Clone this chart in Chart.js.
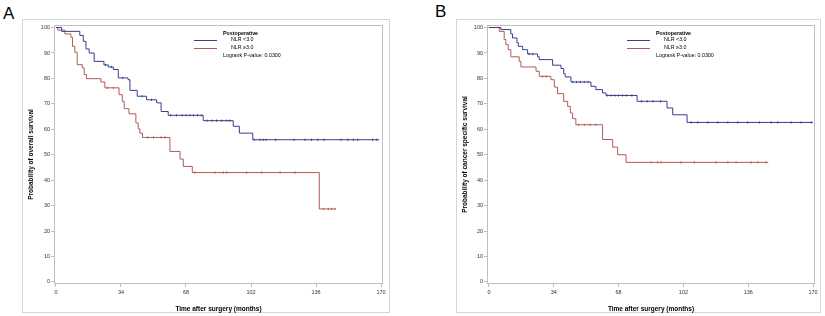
<!DOCTYPE html>
<html>
<head>
<meta charset="utf-8">
<script src="https://cdn.jsdelivr.net/npm/chart.js@4/dist/chart.umd.min.js"></script>
<style>
  body { margin: 0; background: #fff; width: 825px; height: 316px; position: relative; overflow: hidden;
         font-family: "Liberation Sans", Arial, sans-serif; }
  .panel-label { position: absolute; font-size: 17px; line-height: 17px; color: #000; }
  .frame { position: absolute; border: 1px solid #d6d6d6; box-sizing: border-box; }
  canvas { position: absolute; }
  .lg { position: absolute; font-size: 5.3px; line-height: 6px; color: #000; white-space: nowrap; }
  .lg.b { font-weight: bold; }
  .lgline { position: absolute; height: 1px; width: 23px; }
</style>
</head>
<body>
<div class="panel-label" style="left:3px;top:5px;">A</div>
<div class="panel-label" style="left:435px;top:3px;">B</div>

<div class="frame" style="left:22px;top:19px;width:368px;height:294px;"></div>
<div class="frame" style="left:456px;top:19px;width:365px;height:294px;"></div>

<canvas id="chartA" width="368" height="294" style="left:22px;top:19px;"></canvas>
<canvas id="chartB" width="365" height="294" style="left:456px;top:19px;"></canvas>

<!-- legend A -->
<div class="lg b" style="left:223px;top:30px;">Postoperative</div>
<div class="lgline" style="left:194px;top:40px;background:#3a3d8c;"></div>
<div class="lg" style="left:231px;top:36px;">NLR &lt;3.0</div>
<div class="lgline" style="left:194px;top:48px;background:#b35a5a;"></div>
<div class="lg" style="left:231px;top:44px;">NLR ≥3.0</div>
<div class="lg" style="left:223px;top:52px;">Logrank P-value: 0.0300</div>

<!-- legend B -->
<div class="lg b" style="left:656px;top:30px;">Postoperative</div>
<div class="lgline" style="left:627px;top:40px;background:#3a3d8c;"></div>
<div class="lg" style="left:664px;top:36px;">NLR &lt;3.0</div>
<div class="lgline" style="left:627px;top:48px;background:#b35a5a;"></div>
<div class="lg" style="left:664px;top:44px;">NLR ≥3.0</div>
<div class="lg" style="left:656px;top:52px;">Logrank P-value: 0.0300</div>

<script>
"use strict";

// 1: data (months, survival %)
const xTicks = [0, 34, 68, 102, 136, 170];
const yTicks = [0, 10, 20, 30, 40, 50, 60, 70, 80, 90, 100];

// A - overall survival, NLR <3.0
const aLowTime = [0, 3, 12.5, 14.3, 15.7, 17.4, 20, 25.1, 27.4, 30, 32.6, 37.7, 38.7, 42.5, 47.4, 52.7, 55, 58.7, 77, 92.7, 95.9, 102.9, 169];
const aLowSurv = [100, 98.5, 96.9, 94.6, 91.6, 90, 86.7, 85.3, 84.5, 83.5, 80.2, 79.5, 75.3, 73, 71.6, 70.4, 67, 65.5, 63.4, 61.2, 58.5, 55.9, 55.9];
const aLowCensor = [26, 29, 35, 45, 50, 60, 63, 66, 68, 70, 72, 74, 76, 79, 81.5, 84, 86.7, 89.3, 91, 103.6, 106.7, 108.4, 109.8, 114.9, 124.5, 130.2, 133.7, 136.9, 140.2, 149.1, 152.6, 155.5, 157.8, 165.6, 167.7];

// A - overall survival, NLR >=3.0
const aHighTime = [0, 1, 4.7, 7.8, 8.7, 9.9, 11.1, 13.8, 14.8, 16, 23.5, 25.6, 33, 34.7, 35.7, 38.2, 41.8, 43, 43.9, 45.3, 59.6, 64.9, 66.6, 71.3, 137.7, 146];
const aHighSurv = [100, 99, 97.5, 96.2, 92.6, 90.3, 85.4, 84.1, 81.5, 79.9, 78.6, 76.3, 73.6, 71, 68.1, 66.1, 62.5, 60.2, 58.5, 56.8, 51.3, 48.3, 45.4, 43, 28.7, 28.7];
const aHighCensor = [27, 30, 48, 51, 55, 57, 72.7, 83.2, 87.5, 89.3, 99.7, 107.6, 117.2, 125, 139.8, 142.4, 144.2, 146];

// B - cancer specific survival, NLR <3.0
const bLowTime = [0, 6.3, 11.5, 12.4, 14.7, 15.4, 17.7, 20.3, 25.5, 26.4, 33.4, 37.8, 39.2, 40, 43, 53.5, 56.1, 59.6, 61.4, 77.7, 93.4, 96.4, 103.9, 169.9];
const bLowSurv = [100, 99.2, 97.5, 95.9, 94, 92.6, 91.3, 89.6, 88.5, 87.4, 85.2, 83.9, 81.9, 80.6, 78.6, 76.9, 75.6, 74.3, 73.3, 71, 68.4, 65.7, 62.7, 62.7];
const bLowCensor = [21, 23, 44, 46, 48, 50, 52, 62, 64, 66, 68, 70, 72, 75, 80, 83, 86, 90, 106, 109.5, 114.8, 120, 125.3, 130.5, 135.7, 141.8, 148, 151.5, 158.5, 163.7, 169];

// B - cancer specific survival, NLR >=3.0
const bHighTime = [0, 5.4, 8, 8.9, 10.1, 11.5, 15.9, 16.8, 24.7, 26.4, 32.5, 34.3, 36, 39.2, 41.3, 42.7, 43.9, 45.6, 59.6, 64.9, 67.5, 71.9, 146.5];
const bHighSurv = [100, 98.5, 95.3, 93.3, 91.3, 88.5, 86.7, 84.5, 82.8, 80.8, 79.5, 76.6, 74, 71, 69, 66.4, 64.2, 61.8, 56, 53, 50, 47, 47];
const bHighCensor = [28, 30, 47, 50, 53, 56, 85, 88.5, 90.2, 100.7, 107.7, 119.1, 125.3, 129.6, 137.5, 141, 145.3];

const blue = '#3a3d8c';
const red = '#b35a5a';
const axisGrey = '#bfbfbf';

// 2: prepare data for chart
function stepPoints(times, surv) {
  return times.map((t, i) => ({ x: t, y: surv[i] }));
}

function censorPoints(times, surv, censor) {
  return censor.map(c => {
    let v = surv[0];
    for (let i = 0; i < times.length; i++) {
      if (times[i] <= c) v = surv[i];
    }
    return { x: c, y: v };
  });
}

const boxPlugin = {
  id: 'box',
  beforeDatasetsDraw(chart) {
    const a = chart.chartArea;
    const ctx = chart.ctx;
    ctx.save();
    ctx.strokeStyle = axisGrey;
    ctx.lineWidth = 1;
    ctx.strokeRect(Math.round(a.left) + 0.5, Math.round(a.top) + 0.5,
      Math.round(a.right - a.left) - 1, Math.round(a.bottom - a.top) - 1);
    ctx.restore();
  }
};

// 3: create the charts
function makeChart(id, low, high, yTitle, yWidth, padRight) {
  const lines = [
    { data: stepPoints(low.t, low.s), borderColor: blue },
    { data: stepPoints(high.t, high.s), borderColor: red }
  ].map(d => Object.assign(d, { borderWidth: 1, stepped: true, pointRadius: 0, fill: false }));

  const marks = [
    { data: censorPoints(low.t, low.s, low.c), borderColor: blue },
    { data: censorPoints(high.t, high.s, high.c), borderColor: red }
  ].map(d => Object.assign(d, { showLine: false, pointStyle: 'line', rotation: 90, pointRadius: 1.1, borderWidth: 1 }));

  const tickFont = { family: '"Liberation Sans", Arial, sans-serif', size: 5.5 };
  const titleFont = { family: '"Liberation Sans", Arial, sans-serif', size: 6.5, weight: 'bold' };

  return new Chart(document.getElementById(id), {
    type: 'line',
    data: { datasets: lines.concat(marks) },
    options: {
      responsive: false,
      animation: false,
      layout: { padding: { top: 6, right: padRight, left: 0, bottom: 0 } },
      plugins: { legend: { display: false }, tooltip: { enabled: false } },
      scales: {
        x: {
          type: 'linear', min: -1, max: 171,
          afterBuildTicks: s => { s.ticks = xTicks.map(v => ({ value: v })); },
          afterFit: s => { s.height = 29; },
          ticks: { font: tickFont, color: '#333', padding: 2, maxRotation: 0, autoSkip: false },
          grid: { drawOnChartArea: false, tickLength: 3, color: axisGrey },
          border: { display: false },
          title: { display: true, text: 'Time after surgery (months)', font: titleFont, color: '#000', padding: { top: 3, bottom: 0 } }
        },
        y: {
          type: 'linear', min: -0.8, max: 101,
          afterBuildTicks: s => { s.ticks = yTicks.map(v => ({ value: v })); },
          afterFit: s => { s.width = yWidth; },
          ticks: { font: tickFont, color: '#333', padding: 1, autoSkip: false },
          grid: { drawOnChartArea: false, tickLength: 3, color: axisGrey },
          border: { display: false },
          title: { display: true, text: yTitle, font: titleFont, color: '#000', padding: { top: 5, bottom: 0 } }
        }
      }
    },
    plugins: [boxPlugin]
  });
}

makeChart('chartA',
  { t: aLowTime, s: aLowSurv, c: aLowCensor },
  { t: aHighTime, s: aHighSurv, c: aHighCensor },
  'Probability of overall survival', 32, 7);

makeChart('chartB',
  { t: bLowTime, s: bLowSurv, c: bLowCensor },
  { t: bHighTime, s: bHighSurv, c: bHighCensor },
  'Probability of cancer specific survival', 31, 6);
</script>
</body>
</html>
